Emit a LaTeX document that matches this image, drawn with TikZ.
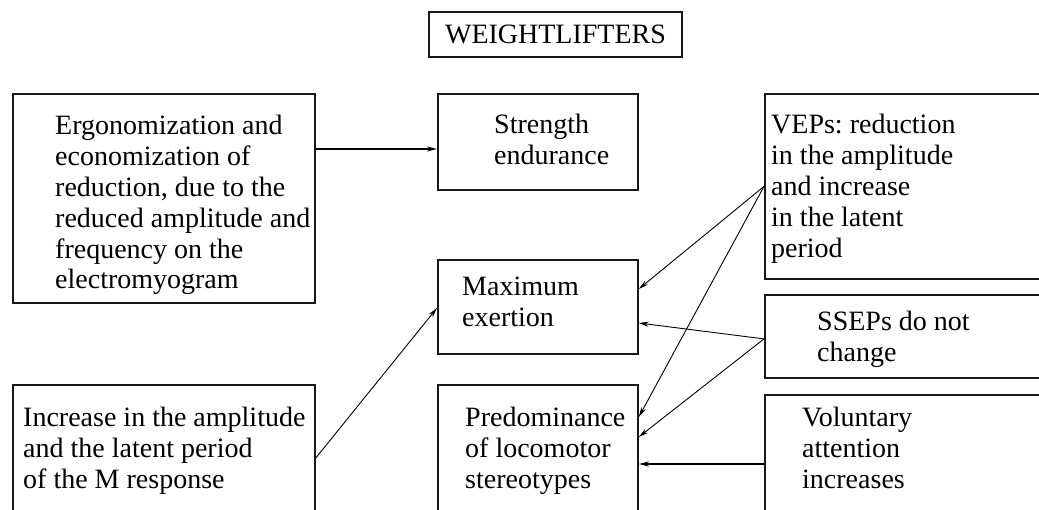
\documentclass[tikz,border=0pt]{standalone}
\usepackage{fontspec}
\setmainfont{Liberation Serif}
\usetikzlibrary{arrows.meta,calc}
\begin{document}
\frenchspacing
\begin{tikzpicture}[x=1pt,y=-1pt,
  box/.style={draw=black!90, line width=1.8pt, anchor=north west, inner sep=0pt},
  txt/.style={anchor=base west, align=flush left, inner sep=0pt, text width=330pt,
    font=\fontsize{28}{30.8}\selectfont\frenchspacing},
  thk/.style={line width=1.7pt, -{Stealth[length=10pt,width=5pt]}},
  thn/.style={line width=0.9pt, -{Stealth[length=10pt,width=5pt]}}]
\useasboundingbox (0,0) rectangle (1039,510);
\clip (0,0) rectangle (1039,510);
\fill[white] (0,0) rectangle (1039,510);
% title
\node[draw=black!90, line width=1.8pt, minimum width=253pt, minimum height=45pt, inner sep=0pt,
  font=\fontsize{28}{30.8}\selectfont] (title) at (555.5,34.5) {WEIGHTLIFTERS};
% boxes
\node[box, minimum width=302pt, minimum height=209pt] (erg) at (12,93) {};
\node[box, minimum width=200pt, minimum height=96pt] (str) at (437,93) {};
\node[box, minimum width=281pt, minimum height=185pt] (vep) at (764,93) {};
\node[box, minimum width=200pt, minimum height=94pt] (max) at (437,259) {};
\node[box, minimum width=281pt, minimum height=83pt] (sse) at (764,294) {};
\node[box, minimum width=200pt, minimum height=146pt] (pre) at (437,384) {};
\node[box, minimum width=281pt, minimum height=140pt] (vol) at (764,394) {};
\node[box, minimum width=302pt, minimum height=146pt] (inc) at (12,384) {};
% texts
\node[txt] (ergt) at (55,135) {Ergonomization and\\economization of\\reduction, due to the\\reduced amplitude and\\frequency on the\\electromyogram};
\node[txt] (strt) at (494,134) {Strength\\endurance};
\node[txt] (vept) at (771,134) {VEPs: reduction\\in the amplitude\\and increase\\in the latent\\period};
\node[txt] (maxt) at (462,296) {Maximum\\exertion};
\node[txt] (sset) at (817,331) {SSEPs do not\\change};
\node[txt] (pret) at (465,427) {Predominance\\of locomotor\\stereotypes};
\node[txt] (volt) at (802,427) {Voluntary\\attention\\increases};
\node[txt] (inct) at (23,427) {Increase in the amplitude\\and the latent period\\of the M response};
% connectors
\coordinate (e1) at ($(erg.north east)+(0,56)$);
\draw[thk] (e1) -- (e1 -| str.west);
\coordinate (vs) at (vep.west);
\draw[thn] (vs) -- ($(max.north east)+(0,30)$);
\draw[thn] (vs) -- ($(pre.north east)+(0,33)$);
\coordinate (ss) at ($(sse.west)+(0,2.5)$);
\draw[thn] (ss) -- ($(max.north east)+(0,64)$);
\draw[thn] (ss) -- ($(pre.north east)+(0,53)$);
\coordinate (v1) at ($(vol.north west)+(0,70)$);
\draw[thk] (v1) -- (v1 -| pre.east);
\draw[thn] ($(inc.north east)+(0,74)$) -- ($(max.north west)+(0,49)$);
\end{tikzpicture}
\end{document}
